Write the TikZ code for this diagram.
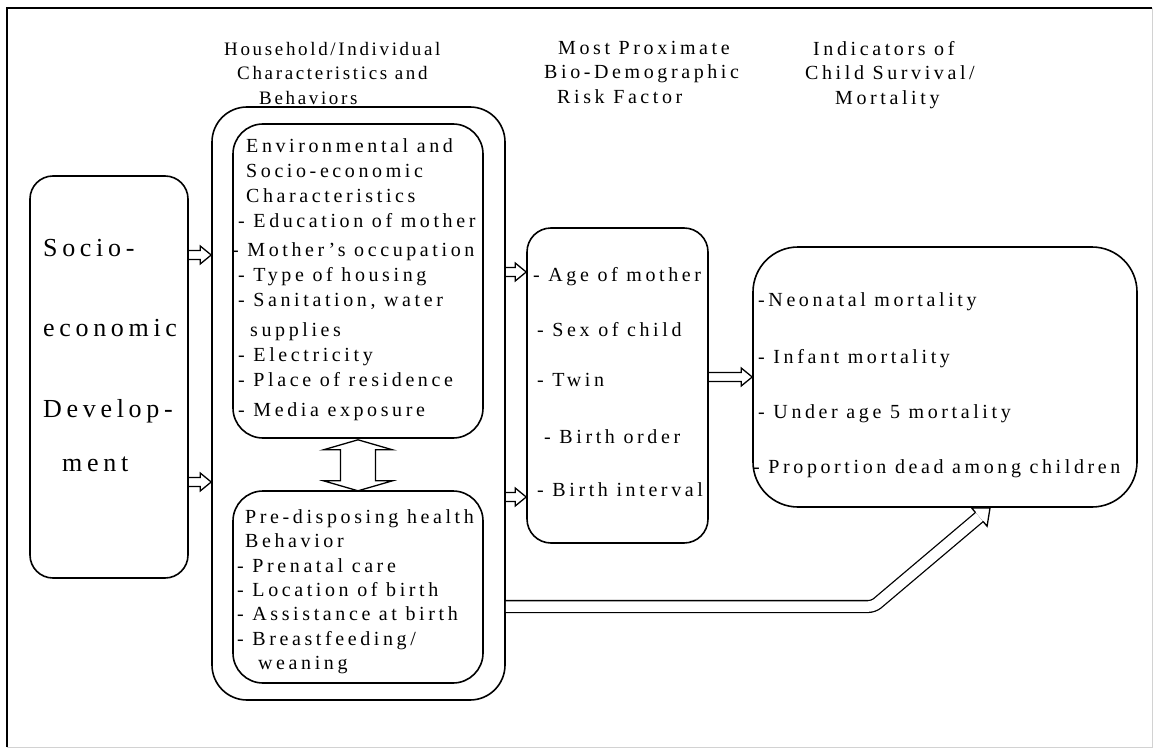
\documentclass[tikz,border=0pt]{standalone}
\usepackage{fontspec}
\setmainfont{Liberation Serif}[LetterSpace=18]
\usetikzlibrary{calc}

\tikzset{
  box/.style={draw, line width=1.6pt, inner sep=0pt},
  txt/.style={inner sep=0pt, anchor=north west, align=left, font=\fontsize{20}{24.5}\selectfont},
  arrowline/.style={line width=1.3pt, line join=miter},
}

% hollow block arrow from #1 to #2 (names of coordinates)
\newcommand{\blockarrow}[2]{%
  \coordinate (hb) at ($(#2)!11pt!(#1)$);
  \draw[arrowline] ($(#1)!4.5pt!90:(#2)$) -- ($(hb)!4.5pt!90:(#2)$) -- ($(hb)!9pt!90:(#2)$)
    -- (#2) -- ($(hb)!9pt!-90:(#2)$) -- ($(hb)!4.5pt!-90:(#2)$) -- ($(#1)!4.5pt!-90:(#2)$);
}

\begin{document}
\begin{tikzpicture}[x=1pt, y=-1pt]
\useasboundingbox (0,0) rectangle (1155,749);
% frame
\draw[gray!35, line width=1pt] (1152,8) -- (1152,747) -- (7,747);
\draw[line width=1.6pt] (7,747) -- (7,8) -- (1152,8);

% boxes
\node[box, rounded corners=23pt, minimum width=158, minimum height=402] (se) at (109,377) {};
\node[box, rounded corners=35pt, minimum width=293, minimum height=593] (hh) at (358.5,403.5) {};
\node[box, rounded corners=30pt, minimum width=250, minimum height=314] (env) at (358,281) {};
\node[box, rounded corners=30pt, minimum width=250, minimum height=192] (pre) at (358,587) {};
\node[box, rounded corners=24pt, minimum width=181, minimum height=315] (risk) at (617.5,385.5) {};
\node[box, rounded corners=45pt, minimum width=384, minimum height=260] (mort) at (945,377) {};

% headings
\node[txt, font=\fontsize{19}{24.5}\selectfont\addfontfeature{LetterSpace=14}] (hhhead) at (224,42) {Household/Individual\\
  \hspace*{13pt}Characteristics and\\
  \hspace*{35pt}Behaviors};
\node[txt] (riskhead) at (544,41) {\hspace*{14pt}Most Proximate\\
  Bio-Demographic\\
  \hspace*{13pt}Risk Factor};
\node[txt] (morthead) at (805,41) {\hspace*{8pt}Indicators of\\
  Child Survival/\\
  \hspace*{30pt}Mortality};

% texts in the boxes
\node[txt, font=\fontsize{26}{30}\selectfont] (setext) at (43,239) {Socio-\\[50pt]
  economic\\[51pt]
  Develop-\\[24pt]
  \hspace*{19pt}ment};
\node[txt, font=\fontsize{20}{25}\selectfont] (envtext) at (232,138.5) {\hspace*{14pt}Environmental and\\
  \hspace*{14pt}Socio-economic\\
  \hspace*{14pt}Characteristics\\
  \hspace*{6pt}- Education of mother\\[4pt]
  - Mother's occupation\\
  \hspace*{6pt}- Type of housing\\
  \hspace*{6pt}- Sanitation, water\\[5pt]
  \hspace*{18pt}supplies\\
  \hspace*{6pt}- Electricity\\
  \hspace*{6pt}- Place of residence\\[5pt]
  \hspace*{6pt}- Media exposure};
\node[txt, font=\fontsize{20}{24.3}\selectfont] (pretext) at (237,509.5) {\hspace*{8pt}Pre-disposing health\\
  \hspace*{8pt}Behavior\\
  - Prenatal care\\
  - Location of birth\\
  - Assistance at birth\\
  - Breastfeeding/\\
  \hspace*{21pt}weaning};
\node[txt, font=\fontsize{20}{25}\selectfont] (risktext) at (533,267.5) {- Age of mother\\[30pt]
  \hspace*{4pt}- Sex of child\\[25pt]
  \hspace*{4pt}- Twin\\[32pt]
  \hspace*{11pt}- Birth order\\[28pt]
  \hspace*{4pt}- Birth interval};
\node[txt, font=\fontsize{20}{25}\selectfont] (morttext) at (753,292.5) {\hspace*{5pt}-Neonatal mortality\\[32pt]
  \hspace*{5pt}- Infant mortality\\[30pt]
  \hspace*{5pt}- Under age 5 mortality\\[30pt]
  - Proportion dead among children};

% arrow rows
\coordinate (r1) at (0,255);
\coordinate (r2) at (0,482);
\coordinate (r3) at (0,272);
\coordinate (r4) at (0,497);
\coordinate (r5) at (0,377);
\coordinate (r6) at (0,606.5);

\coordinate (a1) at (se.east |- r1);   \coordinate (b1) at (hh.west |- r1);
\coordinate (a2) at (se.east |- r2);   \coordinate (b2) at (hh.west |- r2);
\coordinate (a3) at (hh.east |- r3);   \coordinate (b3) at (risk.west |- r3);
\coordinate (a4) at (hh.east |- r4);   \coordinate (b4) at (risk.west |- r4);
\coordinate (a5) at (risk.east |- r5); \coordinate (b5) at (mort.west |- r5);

\blockarrow{a1}{b1}
\blockarrow{a2}{b2}
\blockarrow{a3}{b3}
\blockarrow{a4}{b4}
\blockarrow{a5}{b5}

% long arrow from the behaviour box to the mortality box
\coordinate (bend) at (873.5,606.5);
\coordinate (tip) at (990,508);
\coordinate (bhb) at ($(tip)!14pt!(bend)$);
\draw[double, double distance=10.5pt, line width=1.3pt, rounded corners=5pt] (hh.east |- r6) -- (bend) -- (bhb);
\draw[arrowline] ($(bhb)!5.9pt!90:(tip)$) -- ($(bhb)!12pt!90:(tip)$) -- (tip)
  -- ($(bhb)!12pt!-90:(tip)$) -- ($(bhb)!5.9pt!-90:(tip)$);

% two-way arrow between the inner boxes
\draw[arrowline, fill=white] (env.south) ++(0,1) -- ++(34.5,10) -- ++(-17,0) -- ++(0,31)
  -- ++(17,0) -- ++(-34.5,10) -- ++(-34.5,-10) -- ++(17,0) -- ++(0,-31) -- ++(-17,0) -- cycle;
\end{tikzpicture}
\end{document}
